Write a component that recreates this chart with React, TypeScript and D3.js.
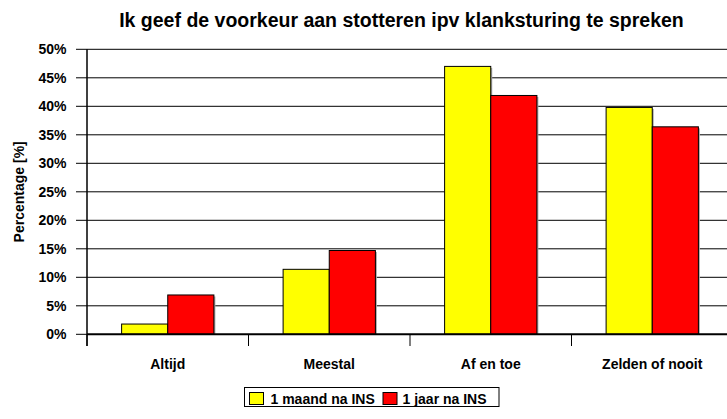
import React from "react";
import * as d3 from "d3";

const categories = ["Altijd", "Meestal", "Af en toe", "Zelden of nooit"];
const seriesNames = ["1 maand na INS", "1 jaar na INS"];
const maandValues = [1.8, 11.4, 47.0, 39.8];
const jaarValues = [6.9, 14.7, 41.9, 36.4];
const yTicks = [0, 5, 10, 15, 20, 25, 30, 35, 40, 45, 50];
const colors = ["#FFFF00", "#FF0000"];

const W = 727;
const H = 419;
const left = 87;
const right = 733;
const top = 49.3;
const bottom = 334.3;
const font = "'Liberation Sans', Arial, sans-serif";

export default function App() {
  const y = d3.scaleLinear().domain([0, 50]).range([bottom, top]);
  const x0 = d3.scaleBand<string>().domain(categories).range([left, right]);
  const bw = x0.bandwidth();
  const barW = bw / 3.5;
  const x1 = d3
    .scaleBand<string>()
    .domain(seriesNames)
    .range([0.75 * barW, 2.75 * barW]);
  const seriesVals = [maandValues, jaarValues];

  return (
    <svg
      width={W}
      height={H}
      style={{ position: "absolute", left: 0, top: 0, background: "#fff" }}
      fontFamily={font}
    >
      <rect x={0} y={0} width={W} height={H} fill="#fff" />
      <text
        x={401.5}
        y={27}
        textAnchor="middle"
        fontSize={19.5}
        fontWeight="bold"
      >
        Ik geef de voorkeur aan stotteren ipv klanksturing te spreken
      </text>
      {/* gridlines */}
      {yTicks.slice(1).map((t) => (
        <line
          key={t}
          x1={left}
          x2={right}
          y1={y(t)}
          y2={y(t)}
          stroke="#000"
          strokeWidth={1}
        />
      ))}
      {/* bars */}
      {categories.map((c, i) =>
        seriesNames.map((s, j) => {
          const v = seriesVals[j][i];
          const bx = (x0(c) as number) + (x1(s) as number);
          const by = y(v);
          return (
            <g key={c + s}>
              <rect
                x={bx + 1.5}
                y={by + 1.5}
                width={barW}
                height={bottom - by - 1.5}
                fill="#aaa"
              />
              <rect
                x={bx}
                y={by}
                width={barW}
                height={bottom - by}
                fill={colors[j]}
                stroke="#000"
                strokeWidth={1}
              />
            </g>
          );
        })
      )}
      {/* y axis */}
      <line x1={left} x2={left} y1={top} y2={346} stroke="#000" strokeWidth={1.5} />
      {yTicks.map((t) => (
        <g key={"t" + t}>
          <line x1={76} x2={left} y1={y(t)} y2={y(t)} stroke="#000" strokeWidth={1} />
          <text
            x={66.5}
            y={y(t)}
            dy="0.36em"
            textAnchor="end"
            fontSize={14}
            fontWeight="bold"
          >
            {t + "%"}
          </text>
        </g>
      ))}
      {/* x axis */}
      <line x1={left} x2={right} y1={bottom} y2={bottom} stroke="#000" strokeWidth={2} />
      {categories.map((c) => (
        <line
          key={"xt" + c}
          x1={x0(c) as number}
          x2={x0(c) as number}
          y1={bottom}
          y2={346}
          stroke="#000"
          strokeWidth={1}
        />
      ))}
      {categories.map((c) => (
        <text
          key={"xl" + c}
          x={(x0(c) as number) + bw / 2}
          y={369}
          textAnchor="middle"
          fontSize={14}
          fontWeight="bold"
        >
          {c}
        </text>
      ))}
      <text
        transform={`translate(23.5,${(top + bottom) / 2}) rotate(-90)`}
        textAnchor="middle"
        fontSize={14}
        fontWeight="bold"
      >
        Percentage [%]
      </text>
      {/* legend */}
      <rect x={244.5} y={387.5} width={254.5} height={19} fill="#fff" stroke="#000" strokeWidth={1} />
      <rect x={249.5} y={392.5} width={14} height={12} fill={colors[0]} stroke="#000" />
      <text x={270.5} y={404} fontSize={14} fontWeight="bold">
        {seriesNames[0]}
      </text>
      <rect x={383} y={392.5} width={14} height={12} fill={colors[1]} stroke="#000" />
      <text x={402.5} y={404} fontSize={14} fontWeight="bold">
        {seriesNames[1]}
      </text>
    </svg>
  );
}
